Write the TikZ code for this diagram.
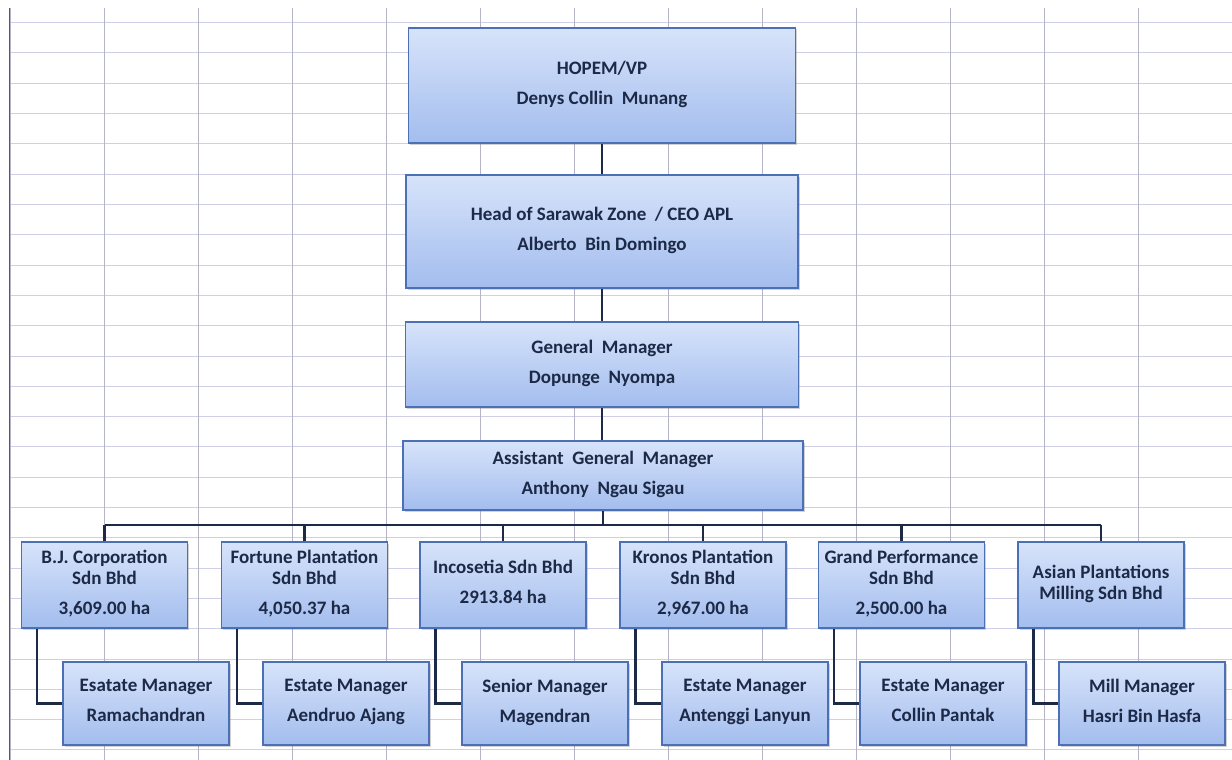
\documentclass[tikz,border=0pt]{standalone}
\usepackage{fontspec}
\usepackage{tikz}
\usetikzlibrary{positioning,shadows}
\newfontfamily\chartfont{Carlito}
\definecolor{boxtop}{HTML}{D7E3FA}
\definecolor{boxbot}{HTML}{A3BDEE}
\definecolor{boxedge}{HTML}{4C70B6}
\definecolor{inkblue}{HTML}{1C2947}
\definecolor{gridv}{HTML}{B4B4C6}
\definecolor{gridh}{HTML}{CFCFE8}

\begin{document}
\begin{tikzpicture}[
    x=1pt, y=-1pt,
    unit/.style={draw=boxedge, line width=1.2pt, top color=boxtop, bottom color=boxbot,
        drop shadow={opacity=0.35, shadow xshift=1.5pt, shadow yshift=-1.5pt},
        align=center, inner sep=0pt, text=inkblue,
        font=\chartfont\bfseries\fontsize{19}{21}\selectfont,
        execute at end node=\strut},
    head/.style={unit, minimum height=#1},
    company/.style={unit, minimum width=166pt, minimum height=86pt},
    post/.style={unit, minimum width=166pt, minimum height=83pt},
    link/.style={draw=inkblue, line width=2.6pt},
    grid v/.style={draw=gridv, line width=0.6pt},
    grid h/.style={draw=gridh, line width=0.6pt}
]
\fill[white] (0,0) rectangle (1232,760);
\useasboundingbox (0,0) rectangle (1232,760);

\foreach \k in {0,...,24}
    \draw[grid h] (10,22.5+30.3*\k) -- (1232,22.5+30.3*\k);
\foreach \k in {0,...,13}
    \draw[grid v] (10+94*\k,8) -- (10+94*\k,760);
\draw[gray!70!black, line width=1pt] (9,8) -- (9,760);

\node[head=115pt, minimum width=387pt] (hopem) at (602,85.5)
    {HOPEM/VP\\[9pt]Denys Collin \ Munang};
\node[head=113pt, minimum width=392pt] (zone) at (602,231.5)
    {Head of Sarawak Zone \ / CEO APL\\[9pt]Alberto \ Bin Domingo};
\node[head=85pt, minimum width=393pt] (gm) at (602,364.5)
    {General \ Manager\\[9pt]Dopunge \ Nyompa};
\node[head=69pt, minimum width=400pt] (agm) at (603,475.5)
    {Assistant \ General \ Manager\\[9pt]Anthony \ Ngau Sigau};

\node[company] (bj) at (104.5,585) {B.J. Corporation\\Sdn Bhd\\[9pt]3,609.00 ha};
\node[company] (fp) at (304.5,585) {Fortune Plantation\\Sdn Bhd\\[9pt]4,050.37 ha};
\node[company] (ic) at (503,585) {Incosetia Sdn Bhd\\[9pt]2913.84 ha};
\node[company] (kp) at (703,585) {Kronos Plantation\\Sdn Bhd\\[9pt]2,967.00 ha};
\node[company] (gp) at (901.5,585) {Grand Performance\\Sdn Bhd\\[9pt]2,500.00 ha};
\node[company] (ap) at (1101,585) {Asian Plantations\\Milling Sdn Bhd};

\node[post] (bjm) at (146,703.5) {Esatate Manager\\[9pt]Ramachandran};
\node[post] (fpm) at (346,703.5) {Estate Manager\\[9pt]Aendruo Ajang};
\node[post] (icm) at (545,703.5) {Senior Manager\\[9pt]Magendran};
\node[post] (kpm) at (745,703.5) {Estate Manager\\[9pt]Antenggi Lanyun};
\node[post] (gpm) at (943,703.5) {Estate Manager\\[9pt]Collin Pantak};
\node[post] (apm) at (1142,703.5) {Mill Manager\\[9pt]Hasri Bin Hasfa};

\coordinate (busL) at (bj.north |- 0,525);
\coordinate (busR) at (ap.north |- 0,525);

\draw[link] (hopem.south) -- (zone.north);
\draw[link] (zone.south) -- (gm.north);
\draw[link] (gm.south) -- (gm.south |- agm.north);
\draw[link] (agm.south) -- (agm.south |- busL);
\draw[link] (busL) -- (busR);
\foreach \co/\mg in {bj/bjm, fp/fpm, ic/icm, kp/kpm, gp/gpm, ap/apm} {
    \draw[link] (\co.north) -- (\co.north |- busL);
    \draw[link] ([xshift=16pt]\co.south west) |- (\mg.west);
}
\end{tikzpicture}
\end{document}
